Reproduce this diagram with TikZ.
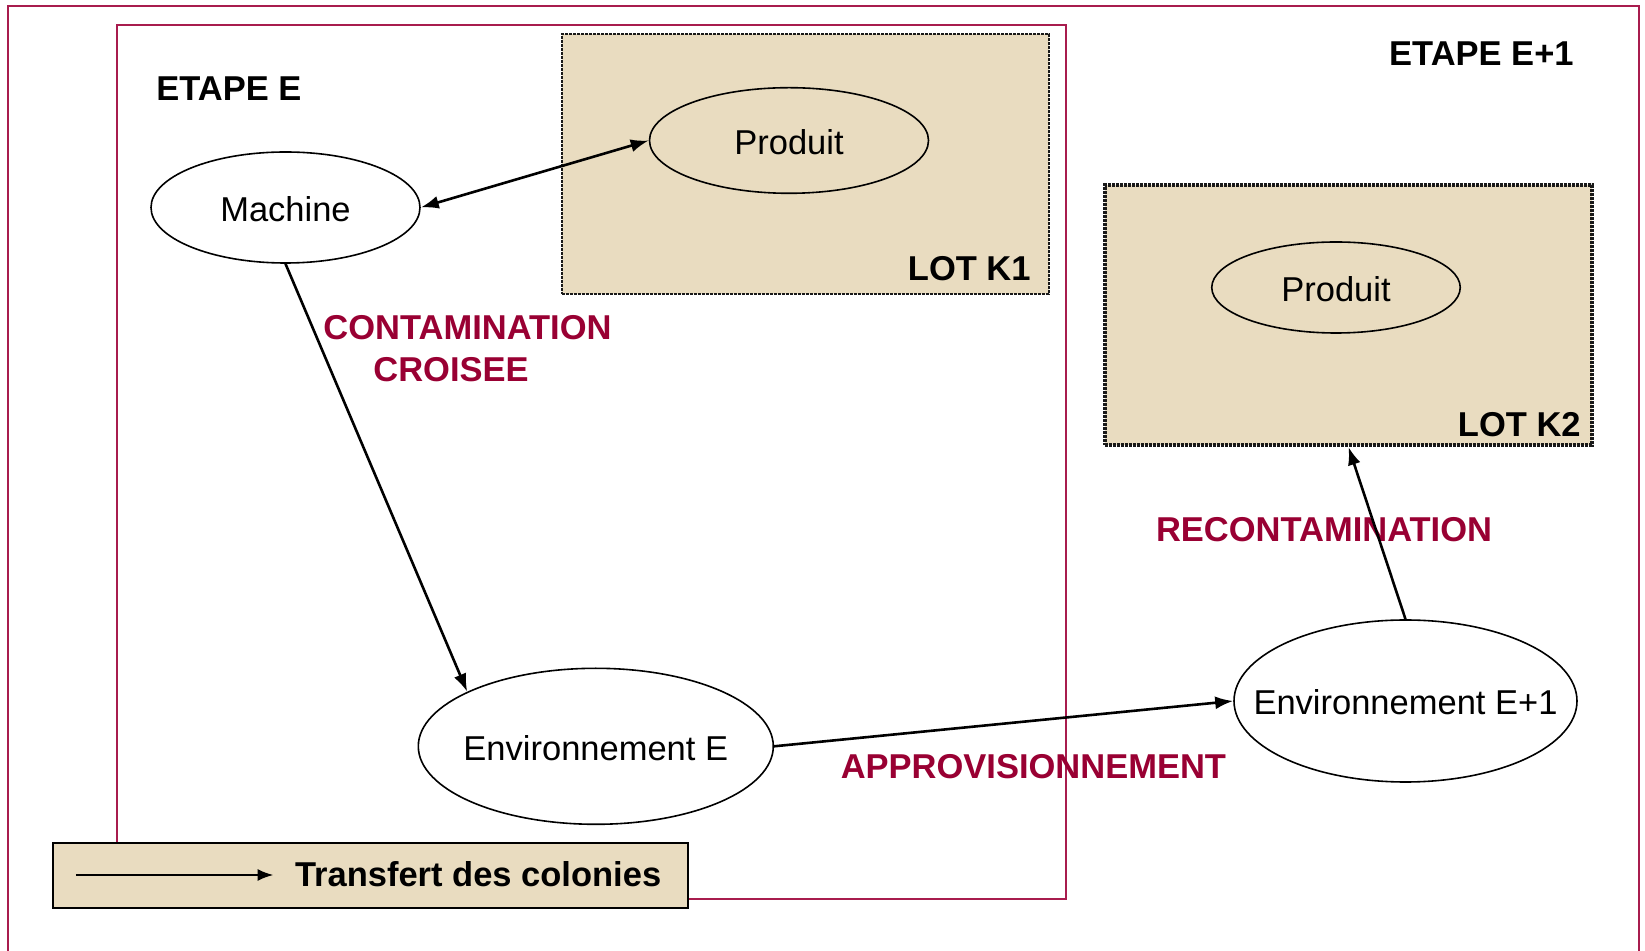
\documentclass[tikz,border=0pt]{standalone}
\usepackage{fontspec}
\setmainfont{Liberation Sans}
\usetikzlibrary{shapes.geometric,arrows.meta}
\definecolor{framered}{RGB}{168,28,78}
\definecolor{labelred}{RGB}{153,0,51}
\definecolor{beige}{RGB}{233,220,192}
\newcommand{\zw}[1]{\raisebox{-6.9pt}[0pt][0pt]{\makebox[0pt]{#1}}}
\tikzset{
  base/.style={font=\fontsize{17.25pt}{20pt}\selectfont, inner sep=0pt},
  oval/.style={base, ellipse, draw=black, line width=0.8pt},
  lotbox/.style={rectangle, draw=black!90, fill=beige, dash pattern=on 1.6pt off 0.4pt},
  title/.style={base, font=\fontsize{17.25pt}{20pt}\selectfont\bfseries},
  redlabel/.style={title, text=labelred},
  flow/.style={line width=1.3pt, -{Latex[length=9pt,width=6.5pt]}},
  frame/.style={draw=framered, line width=1pt}
}
\begin{document}
\begin{tikzpicture}[x=0.5pt,y=-0.5pt]
\useasboundingbox (0,0) rectangle (1645,951);
\fill[white] (0,0) rectangle (1645,951);
% outer frame (bottom edge lies outside the picture)
\draw[frame] (8.4,951) -- (8.4,5.7) -- (1639,5.7) -- (1639,951);
% inner frame
\draw[frame] (116.5,25.5) rectangle (1065.5,898.5);
% lots
\node[lotbox, line width=1.1pt, minimum width=243.5pt, minimum height=130pt] (lotK1) at (805.5,164) {};
\node[lotbox, line width=2pt, minimum width=243.5pt, minimum height=130pt] (lotK2) at (1348.5,315) {};
% ovals
\node[oval, fill=white, minimum width=134.5pt, minimum height=55.5pt] (machine) at (285.5,207.5) {\zw{Machine}};
\node[oval, fill=beige, minimum width=139.5pt, minimum height=52.8pt] (prod1) at (789,140.5) {\zw{Produit}};
\node[oval, fill=white, minimum width=177.5pt, minimum height=78pt] (envE) at (595.8,746.3) {\zw{Environnement E}};
\node[oval, fill=white, minimum width=171.5pt, minimum height=81pt] (envE1) at (1405.5,701) {\zw{Environnement E+1}};
\node[oval, fill=beige, minimum width=124.25pt, minimum height=45.5pt] (prod2) at (1336,287.5) {\zw{Produit}};
% titles
\node[title, anchor=west] (etapeE) at (156,88.5) {ETAPE E};
\node[title, anchor=east] (etapeE1) at (1574,53.3) {ETAPE E+1};
\node[title, anchor=east] (lotK1lbl) at (1031,268.3) {LOT K1};
\node[title, anchor=east] (lotK2lbl) at (1581,424.5) {LOT K2};
% red labels
\node[redlabel] (contam) at (467.5,327.5) {CONTAMINATION};
\node[redlabel] (croisee) at (451,370) {CROISEE};
\node[redlabel] (recont) at (1324,529.5) {RECONTAMINATION};
\node[redlabel] (appro) at (1033.4,767) {APPROVISIONNEMENT};
% connectors
\draw[flow, {Latex[length=9pt,width=6.5pt]}-{Latex[length=9pt,width=6.5pt]}] (machine.east) -- (prod1.west);
\draw[flow] (machine.south) -- (envE.157);
\draw[flow] (envE.east) -- (envE1.west);
\draw[flow] (envE1.north) -- (lotK2.south);
% legend
\node[draw=black, line width=1pt, fill=beige, minimum width=317.5pt, minimum height=32.3pt, inner sep=0pt] (legend) at (370,875.4) {};
\coordinate (la) at (75.8,875);
\coordinate (lb) at (273.6,875);
\draw[line width=1.2pt, -{Latex[length=8pt,width=6pt]}] (la) -- (lb);
\node[title, anchor=west] (legtext) at (294.6,874.2) {Transfert des colonies};
\end{tikzpicture}
\end{document}
